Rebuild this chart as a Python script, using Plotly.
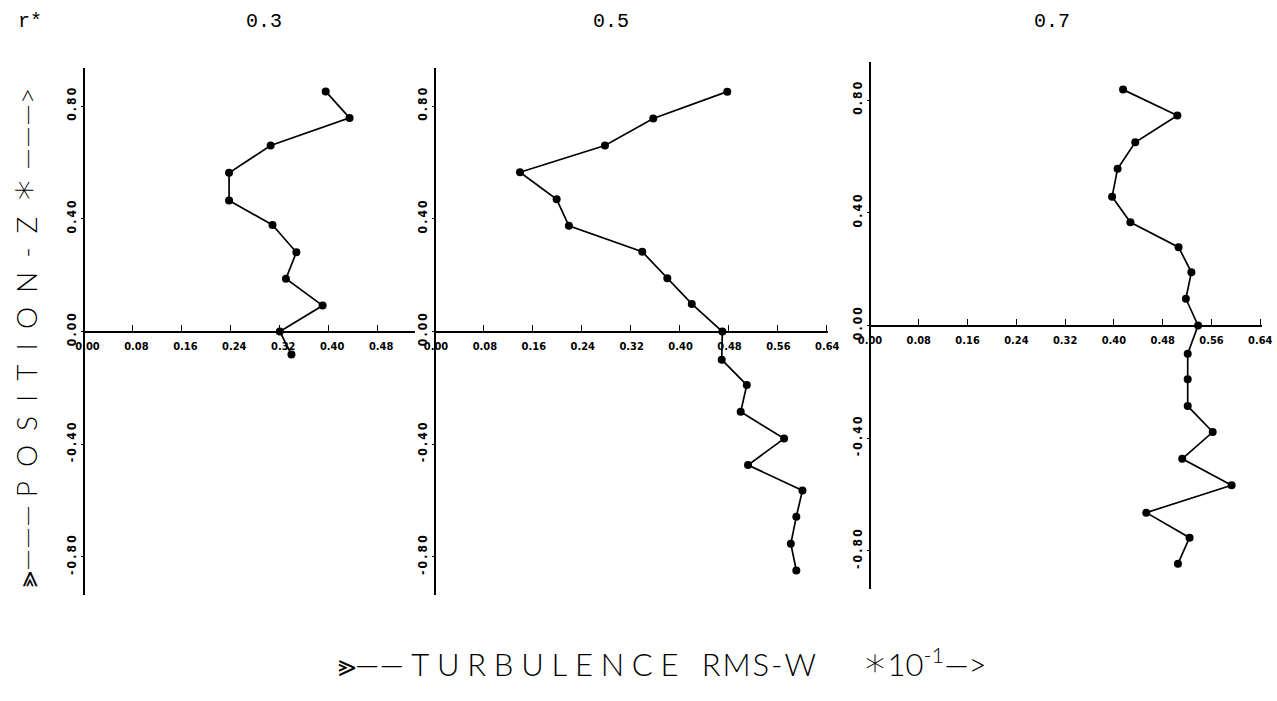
import plotly.graph_objects as go

W, H = 1277, 701

# ---------------- data ----------------
panel_titles = ["0.3", "0.5", "0.7"]

z_r03 = [0.852, 0.758, 0.66, 0.563, 0.465, 0.378, 0.281, 0.187, 0.092, 0.0, -0.082]
w_r03 = [0.396, 0.435, 0.306, 0.238, 0.238, 0.309, 0.348, 0.331, 0.391, 0.321, 0.340]

z_r05 = [0.851, 0.756, 0.66, 0.565, 0.469, 0.375, 0.283, 0.189, 0.098, 0.0,
         -0.10, -0.19, -0.285, -0.38, -0.474, -0.564, -0.657, -0.753, -0.848]
w_r05 = [0.478, 0.357, 0.278, 0.139, 0.199, 0.219, 0.339, 0.380, 0.420, 0.470,
         0.469, 0.510, 0.500, 0.571, 0.512, 0.601, 0.591, 0.582, 0.591]

z_r07 = [0.837, 0.745, 0.65, 0.556, 0.457, 0.366, 0.278, 0.189, 0.095, 0.0,
         -0.10, -0.191, -0.286, -0.378, -0.473, -0.567, -0.664, -0.753, -0.845]
w_r07 = [0.415, 0.504, 0.435, 0.406, 0.397, 0.427, 0.506, 0.527, 0.518, 0.538,
         0.521, 0.521, 0.521, 0.562, 0.512, 0.593, 0.453, 0.524, 0.505]

x_ticks_short = [0.00, 0.08, 0.16, 0.24, 0.32, 0.40, 0.48]
x_labels_short = ["0.00", "0.08", "0.16", "0.24", "0.32", "0.40", "0.48"]
x_ticks_long = [0.00, 0.08, 0.16, 0.24, 0.32, 0.40, 0.48, 0.56, 0.64]
x_labels_long = ["0.00", "0.08", "0.16", "0.24", "0.32", "0.40", "0.48", "0.56", "0.64"]
y_ticks = [-0.8, -0.4, 0.0, 0.4, 0.8]
y_labels = ["-0.80", "-0.40", "0.00", "0.40", "0.80"]

# ---------------- layout geometry (pixels) ----------------
panels = [
    dict(w=w_r03, z=z_r03, x0=83.5, x1=415, top=68, bot=595, xmax=0.542,
         tv=x_ticks_short, tt=x_labels_short, shift=4),
    dict(w=w_r05, z=z_r05, x0=435, x1=827.5, top=68, bot=595, xmax=0.642,
         tv=x_ticks_long, tt=x_labels_long, shift=1),
    dict(w=w_r07, z=z_r07, x0=870, x1=1261.5, top=62, bot=589, xmax=0.642,
         tv=x_ticks_long, tt=x_labels_long, shift=0),
]
YR = [-0.935, 0.935]


def spaced(s, sp):
    return sp.join(list(s))


fig = go.Figure()
layout = {}
tick_family = "DejaVu Sans Condensed, Liberation Sans Narrow, DejaVu Sans"
tickfont_x = dict(family=tick_family, size=11, color="black", weight="bold")
tickfont_y = dict(family=tick_family, size=12, color="black", weight="bold")

for i, p in enumerate(panels, start=1):
    xa = "xaxis" if i == 1 else f"xaxis{i}"
    ya = "yaxis" if i == 1 else f"yaxis{i}"
    xr = "x" if i == 1 else f"x{i}"
    yr = "y" if i == 1 else f"y{i}"
    fig.add_trace(go.Scatter(
        x=p["w"], y=p["z"], xaxis=xr, yaxis=yr, mode="lines+markers",
        line=dict(color="black", width=1.7),
        marker=dict(symbol="circle", size=8, color="black"),
        cliponaxis=False, showlegend=False, hoverinfo="skip"))
    ydom = [1 - p["bot"] / H, 1 - p["top"] / H]
    zero_px = (p["top"] + p["bot"]) / 2
    layout[xa] = dict(
        domain=[p["x0"] / W, p["x1"] / W], range=[0, p["xmax"]],
        anchor="free", position=1 - zero_px / H, automargin=False,
        showline=True, linecolor="black", linewidth=1.8,
        ticks="inside", ticklen=6, tickwidth=1.4, tickcolor="black",
        tickvals=p["tv"], ticktext=p["tt"], tickfont=tickfont_x,
        ticklabelshift=p["shift"], ticklabelstandoff=4, ticklabeloverflow="allow",
        showgrid=False, zeroline=False, fixedrange=True)
    layout[ya] = dict(
        domain=ydom, range=YR, anchor="free", position=p["x0"] / W, automargin=False,
        showline=True, linecolor="black", linewidth=1.8,
        ticks="outside", ticklen=2, tickwidth=1.4, tickcolor="black",
        tickvals=y_ticks, ticktext=[spaced(t, "\u2009") for t in y_labels],
        tickfont=tickfont_y, tickangle=-90, ticklabelstandoff=0,
        ticklabeloverflow="allow",
        showgrid=False, zeroline=False, fixedrange=True)

annotations = []
title_font = dict(family="Liberation Mono, DejaVu Sans Mono", size=20, color="black")
annotations.append(dict(text="r*", x=30 / W, y=1 - 22 / H, xref="paper", yref="paper",
                        showarrow=False, font=title_font, xanchor="center", yanchor="middle"))
for t, cx in zip(panel_titles, [264, 611, 1052]):
    annotations.append(dict(text=t, x=cx / W, y=1 - 22 / H, xref="paper", yref="paper",
                            showarrow=False, font=title_font, xanchor="center", yanchor="middle"))

star = '<span style="font-family:DejaVu Sans;font-size:40px;color:black">∗</span>'

annotations.append(dict(
    text="⪢—— " + spaced("TURBULENCE", "\u2005") + "\u2003" + spaced("RMS-W", "\u200a")
         + "\u2003\u2003" + star + "10<sup>-1</sup>—>",
    x=662 / W, y=1 - 662 / H, xref="paper", yref="paper", showarrow=False,
    font=dict(family="Lato, DejaVu Sans", size=31, color="black", weight=300),
    xanchor="center", yanchor="middle"))
annotations.append(dict(
    text="⪢——— " + spaced("POSITION-Z", "\u2002") + "\u2002" + star + " ———>",
    x=23 / W, y=1 - 338 / H, xref="paper", yref="paper", showarrow=False,
    font=dict(family="Lato, DejaVu Sans", size=28, color="black", weight=300),
    textangle=-90, xanchor="center", yanchor="middle"))

fig.update_layout(
    width=W, height=H, margin=dict(l=0, r=0, t=0, b=0, autoexpand=False),
    paper_bgcolor="white", plot_bgcolor="white",
    annotations=annotations, **layout)

fig.write_html("out.html")
